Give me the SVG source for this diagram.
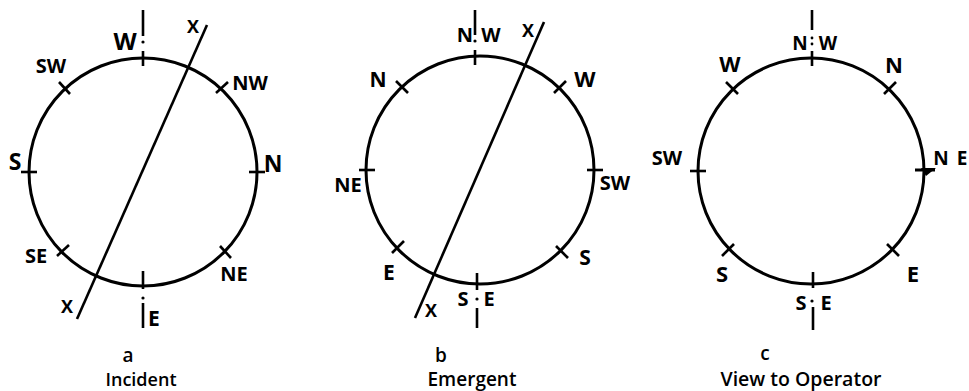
<svg xmlns="http://www.w3.org/2000/svg" width="969" height="391" viewBox="0 0 969 391">
<style>
.ring{fill:none;stroke:#000;stroke-width:3}
.tk{stroke:#000;stroke-width:2.6;fill:none}
.ax{stroke:#000;stroke-width:2.6;fill:none}
.lb{font-family:"Open Sans",Lato,"Liberation Sans",sans-serif;font-weight:bold;font-size:20px;fill:#000;text-anchor:middle}
.big{font-size:22px}
.x{font-size:18px}
.cap{font-family:"Open Sans",Lato,"Liberation Sans",sans-serif;font-weight:600;font-size:19px;fill:#000;text-anchor:middle}
</style>
<rect width="969" height="391" fill="#fff"/>

<g id="diagram-a">
  <circle class="ring" cx="143" cy="172" r="114"/>
  <g class="tk">
    <line x1="143" y1="51" x2="143" y2="66"/>
    <line x1="143" y1="271" x2="143" y2="289"/>
    <line x1="21" y1="172" x2="37" y2="172"/>
    <line x1="249" y1="172" x2="265" y2="172"/>
    <line x1="59" y1="82" x2="70" y2="94"/>
    <line x1="216" y1="93" x2="228" y2="82"/>
    <line x1="57" y1="256" x2="69" y2="245"/>
    <line x1="220" y1="246" x2="231" y2="258"/>
  </g>
  <g class="ax">
    <line x1="143" y1="10" x2="143" y2="36"/>
    <line x1="143" y1="303" x2="143" y2="328"/>
    <line x1="77" y1="319" x2="207" y2="25"/>
  </g>
  <circle cx="143" cy="42" r="1.6"/>
  <circle cx="143" cy="298" r="1.6"/>
  <text class="lb" x="125" y="50" style="font-size:24px">W</text>
  <text class="lb x" x="193" y="33">X</text>
  <text class="lb" x="51" y="73">SW</text>
  <text class="lb" x="250" y="90">NW</text>
  <text class="lb" x="15" y="170" style="font-size:23px">S</text>
  <text class="lb" x="273" y="172" style="font-size:23px">N</text>
  <text class="lb" x="36" y="263">SE</text>
  <text class="lb" x="234" y="281">NE</text>
  <text class="lb x" x="67" y="313">X</text>
  <text class="lb" x="154" y="326" style="font-size:21px">E</text>
  <text class="cap" x="128" y="362">a</text>
  <text class="cap" x="141" y="386" style="font-size:18px">Incident</text>
</g>

<g id="diagram-b">
  <circle class="ring" cx="480" cy="170" r="114"/>
  <g class="tk">
    <line x1="475" y1="50" x2="475" y2="65"/>
    <line x1="477" y1="273" x2="477" y2="290"/>
    <line x1="359" y1="170" x2="375" y2="170"/>
    <line x1="587" y1="170" x2="603" y2="170"/>
    <line x1="396" y1="81" x2="408" y2="93"/>
    <line x1="554" y1="93" x2="566" y2="81"/>
    <line x1="392" y1="253" x2="404" y2="241"/>
    <line x1="556" y1="246" x2="568" y2="258"/>
  </g>
  <g class="ax">
    <line x1="475" y1="10" x2="475" y2="35"/>
    <line x1="477" y1="308" x2="477" y2="328"/>
    <line x1="415" y1="318" x2="544" y2="22"/>
  </g>
  <circle cx="475" cy="41" r="1.6"/>
  <circle cx="477" cy="299" r="1.6"/>
  <text class="lb" x="465" y="42">N</text>
  <text class="lb" x="491" y="42">W</text>
  <text class="lb x" x="528" y="37">X</text>
  <text class="lb" x="378" y="87" style="font-size:21px">N</text>
  <text class="lb big" x="585" y="87">W</text>
  <text class="lb" x="348" y="192">NE</text>
  <text class="lb" x="615" y="190">SW</text>
  <text class="lb" x="389" y="280" style="font-size:21px">E</text>
  <text class="lb" x="585" y="265" style="font-size:21px">S</text>
  <text class="lb x" x="431" y="317">X</text>
  <text class="lb" x="463" y="306">S</text>
  <text class="lb" x="489" y="306">E</text>
  <text class="cap" x="441" y="362">b</text>
  <text class="cap" x="472" y="386">Emergent</text>
</g>

<g id="diagram-c">
  <circle class="ring" cx="811" cy="171" r="113"/>
  <g class="tk">
    <line x1="812" y1="51" x2="812" y2="66"/>
    <line x1="813" y1="272" x2="813" y2="288"/>
    <line x1="690" y1="171" x2="706" y2="171"/>
    <line x1="726" y1="82" x2="738" y2="94"/>
    <line x1="884" y1="94" x2="896" y2="82"/>
    <line x1="722" y1="256" x2="734" y2="244"/>
    <line x1="887" y1="244" x2="899" y2="256"/>
  </g>
  <line class="tk" x1="915" y1="170" x2="935" y2="170" style="stroke-width:3"/>
  <path d="M921 168 L936 168 L926 176 Z" fill="#000"/>
  <g class="ax">
    <line x1="812" y1="10" x2="812" y2="30"/>
    <line x1="813" y1="307" x2="813" y2="330"/>
  </g>
  <circle cx="812" cy="38" r="1.4"/>
  <circle cx="812" cy="44" r="1.4"/>
  <circle cx="812" cy="301" r="1.6"/>
  <text class="lb" x="800" y="50" style="font-size:19px">N</text>
  <text class="lb" x="828" y="50" style="font-size:19px">W</text>
  <text class="lb big" x="730" y="72">W</text>
  <text class="lb big" x="894" y="73">N</text>
  <text class="lb" x="667" y="165">SW</text>
  <text class="lb" x="941" y="165" style="font-size:19px">N</text>
  <text class="lb" x="962" y="165" style="font-size:19px">E</text>
  <text class="lb big" x="722" y="282">S</text>
  <text class="lb big" x="913" y="282">E</text>
  <text class="lb" x="801" y="310">S</text>
  <text class="lb" x="826" y="310">E</text>
  <text class="cap" x="765" y="360">c</text>
  <text class="cap" x="801" y="386" style="font-size:19.5px">View to Operator</text>
</g>
</svg>
